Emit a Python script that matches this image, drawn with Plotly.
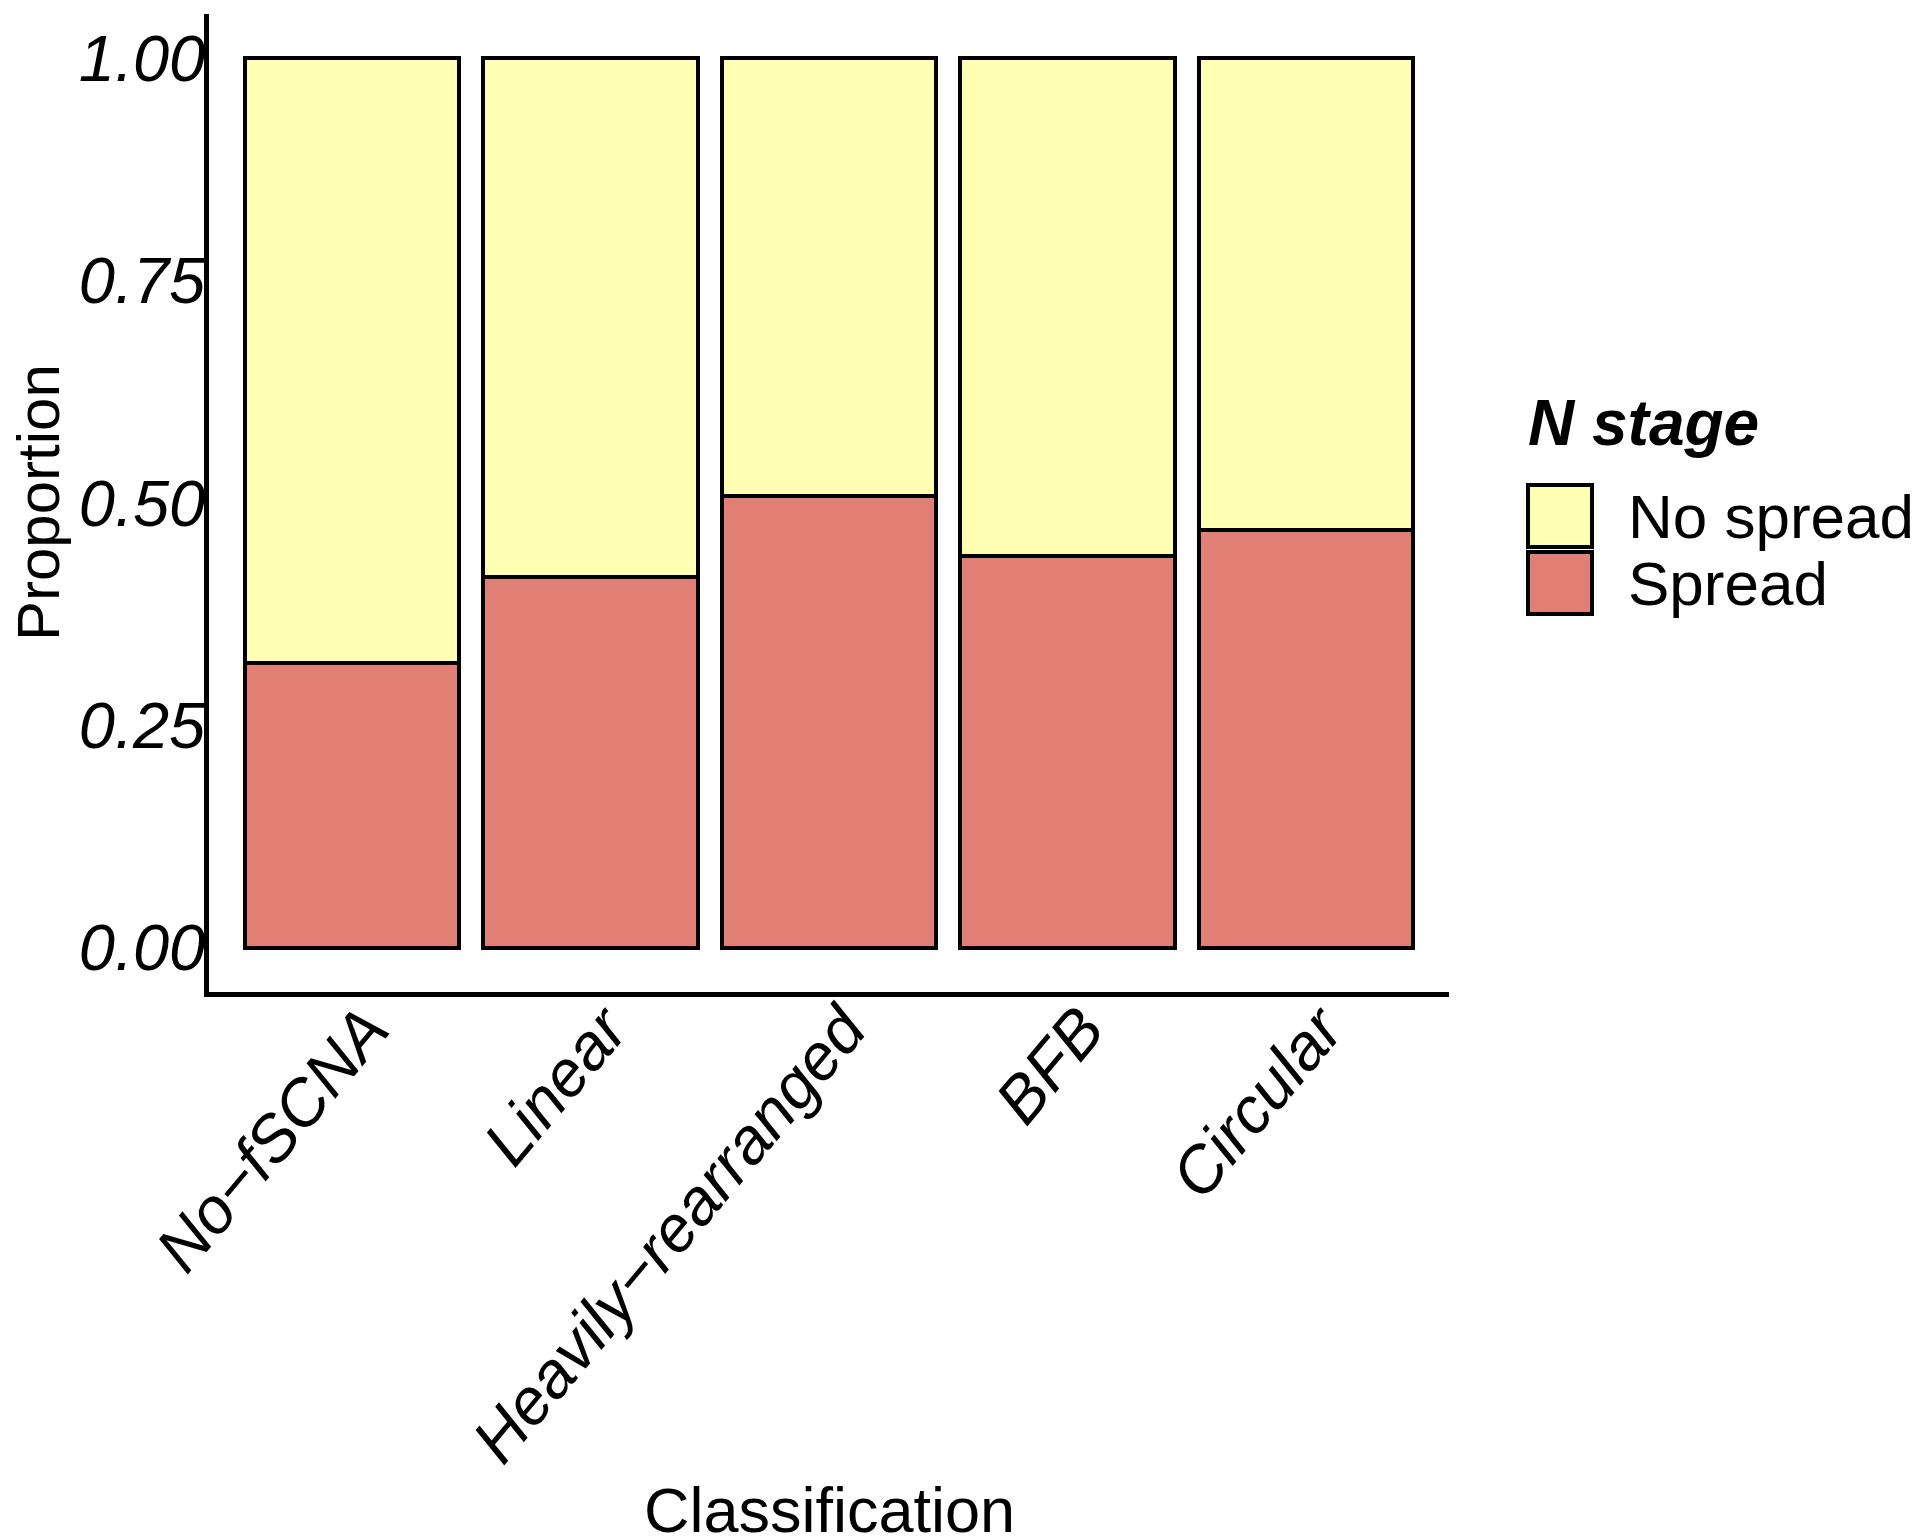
import plotly.graph_objects as go

categories = ["No−fSCNA", "Linear", "Heavily−rearranged", "BFB", "Circular"]
spread = [0.320, 0.417, 0.508, 0.440, 0.470]
no_spread = [0.680, 0.583, 0.492, 0.560, 0.530]
y_ticks = [0.0, 0.25, 0.5, 0.75, 1.0]
y_tick_labels = ["0.00", "0.25", "0.50", "0.75", "1.00"]
x_title = "Classification"
y_title = "Proportion"
legend_title = "N stage"
legend_labels = ["No spread", "Spread"]

YELLOW = "#FFFFB3"
RED = "#E07F73"
FONT = "Liberation Sans"

W, H = 1920, 1536
OFF = 8  # page body margin
L, R, T, B = 201, 479, 6, 552
PW, PH = W - L - R, H - T - B


def px(x):  # screen pixel -> paper x
    return (x - OFF - L) / PW


def py(y):  # screen pixel -> paper y
    return (H - B - (y - OFF)) / PH


fig = go.Figure()
fig.add_trace(go.Bar(x=categories, y=spread, name=legend_labels[1], width=0.9,
                     marker=dict(color=RED, line=dict(color="black", width=4))))
fig.add_trace(go.Bar(x=categories, y=no_spread, name=legend_labels[0], width=0.9,
                     marker=dict(color=YELLOW, line=dict(color="black", width=4))))

fig.update_layout(
    width=W, height=H,
    margin=dict(l=L, r=R, t=T, b=B, pad=0),
    barmode="stack",
    showlegend=False,
    plot_bgcolor="white", paper_bgcolor="white",
    font=dict(family=FONT, color="black"),
)
fig.update_xaxes(
    range=[-0.6, 4.6], showline=True, linecolor="black", linewidth=4.5,
    ticks="", showgrid=False, zeroline=False, tickangle=-50,
    ticklabelstandoff=-32, ticklabelshift=15,
    tickfont=dict(family=FONT, size=65, style="italic", color="black"),
)
fig.update_yaxes(
    range=[-0.05, 1.05], showline=True, linecolor="black", linewidth=4.5,
    ticks="", showgrid=False, zeroline=False,
    tickvals=y_ticks, ticktext=y_tick_labels, ticklabelstandoff=-14,
    tickfont=dict(family=FONT, size=65, style="italic", color="black"),
)

# axis titles
fig.add_annotation(x=px(829), y=py(1510), xref="paper", yref="paper",
                   text=x_title, showarrow=False, xanchor="center", yanchor="middle",
                   font=dict(family=FONT, size=63, color="black"))
fig.add_annotation(x=px(38), y=py(503), xref="paper", yref="paper",
                   text=y_title, showarrow=False, textangle=-90,
                   xanchor="center", yanchor="middle",
                   font=dict(family=FONT, size=60, color="black"))

# manual legend (large keys as in the reference)
fig.add_annotation(x=px(1526), y=py(423), xref="paper", yref="paper",
                   text=legend_title, showarrow=False, xanchor="left", yanchor="middle",
                   font=dict(family=FONT, size=64, weight="bold", style="italic", color="black"))
key_colors = [YELLOW, RED]
key_tops = [485, 552]
for lab, col, top in zip(legend_labels, key_colors, key_tops):
    fig.add_shape(type="rect", xref="paper", yref="paper",
                  x0=px(1528), x1=px(1592), y0=py(top), y1=py(top + 62),
                  fillcolor=col, line=dict(color="black", width=4))
    fig.add_annotation(x=px(1626), y=py(top + 31), xref="paper", yref="paper",
                       text=lab, showarrow=False, xanchor="left", yanchor="middle",
                       font=dict(family=FONT, size=62, color="black"))

fig.write_html("out.html", config={"displayModeBar": False})
